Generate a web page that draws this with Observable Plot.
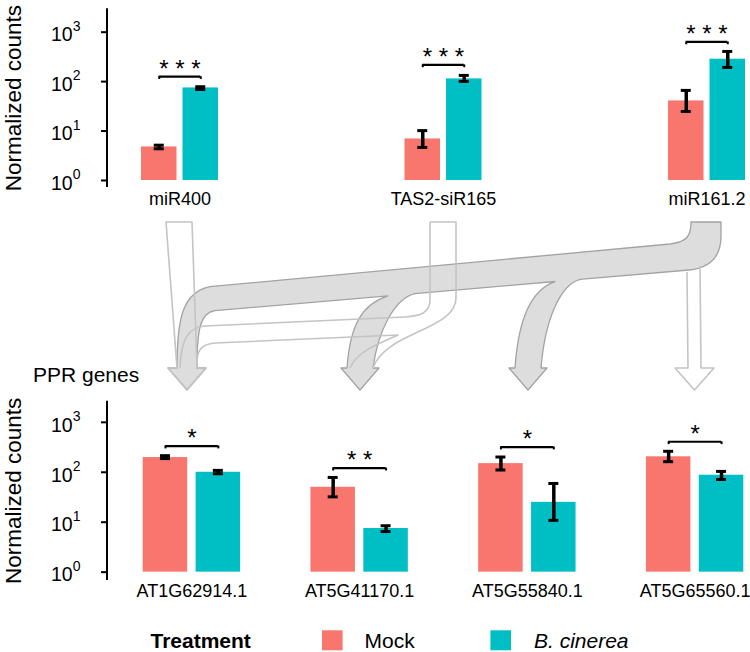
<!DOCTYPE html>
<html><head><meta charset="utf-8">
<script src="https://cdn.jsdelivr.net/npm/d3@7"></script>
<script src="https://cdn.jsdelivr.net/npm/@observablehq/plot@0.6"></script>
<style>
body{margin:0;background:#fff;font-family:"Liberation Sans",Arial,sans-serif;}
#wrap{position:relative;width:750px;height:652px;overflow:hidden;background:#fff}
#wrap > *{position:absolute;left:0}
</style></head><body><div id="wrap"></div>
<script>
// ---------- data ----------
const treatments = ["Mock", "B. cinerea"];
const colors = ["#F8766D", "#00BFC4"];
const yTicks = [1, 10, 100, 1000];

const topGroups = ["miR400", "TAS2-siR165", "miR161.2"];
const topMock   = [4.77, 6.92, 40.7];
const topMockLo = [4.38, 4.66, 24.9];
const topMockHi = [5.18, 10.2, 66.4];
const topBc     = [74.5, 113.5, 284];
const topBcLo   = [69.5, 101, 194];
const topBcHi   = [78.8, 133.5, 408];
const topSig    = ["* * *", "* * *", "* * *"];
const topSigY   = [126, 218, 635];

const botGroups = ["AT1G62914.1", "AT5G41170.1", "AT5G55840.1", "AT5G65560.1"];
const botMock   = [197, 50, 149, 204];
const botMockLo = [188, 32.2, 111, 163];
const botMockHi = [215, 78.8, 202, 263];
const botBc     = [100, 7.48, 25, 87.3];
const botBcLo   = [93.5, 6.5, 10.9, 71.8];
const botBcHi   = [109, 8.5, 59.7, 104];
const botSig    = ["*", "* *", "*", "*"];
const botSigY   = [335, 121, 320, 408];

const yTitle = "Normalized counts";
const bottomTitle = "PPR genes";
const legendTitle = "Treatment";

// ---------- panel builder ----------
function panel(cfg) {
  const rows = [];
  cfg.groups.forEach((g, i) => {
    rows.push({group: g, treatment: treatments[0], value: cfg.mock[i], lo: cfg.mockLo[i], hi: cfg.mockHi[i]});
    rows.push({group: g, treatment: treatments[1], value: cfg.bc[i], lo: cfg.bcLo[i], hi: cfg.bcHi[i]});
  });
  const mock = rows.filter(d => d.treatment === treatments[0]);
  const bc = rows.filter(d => d.treatment === treatments[1]);
  const sig = cfg.groups.map((g, i) => ({group: g, y: cfg.sigY[i], label: cfg.sig[i]}));
  const barW = cfg.barW, gap = cfg.gap, bw = 2 * barW + gap;
  const off = (barW + gap) / 2;
  const capW = 10;
  const capIn = bw / 2 - off - capW / 2;
  const capOut = bw / 2 + off - capW / 2;
  const extra = cfg.extra || [];
  const plot = Plot.plot({
    width: 750, height: cfg.height,
    marginLeft: 108, marginRight: 0, marginTop: cfg.marginTop, marginBottom: cfg.marginBottom,
    style: {fontFamily: "'Liberation Sans', Arial, sans-serif", background: "white", color: "black", overflow: "visible"},
    x: {domain: cfg.groups, range: cfg.xRange, paddingInner: cfg.pad, paddingOuter: 0, round: false},
    y: {type: "log", domain: cfg.yDomain},
    color: {domain: treatments, range: colors},
    marks: [
      Plot.barY(mock, {x: "group", y1: 1, y2: "value", fill: "treatment", insetRight: barW + gap}),
      Plot.barY(bc, {x: "group", y1: 1, y2: "value", fill: "treatment", insetLeft: barW + gap}),
      Plot.ruleX(mock, {x: "group", y1: "lo", y2: "hi", dx: -off, stroke: "black", strokeWidth: 3.5}),
      Plot.ruleX(bc, {x: "group", y1: "lo", y2: "hi", dx: off, stroke: "black", strokeWidth: 3.5}),
      Plot.tickY(mock, {x: "group", y: "lo", insetLeft: capIn, insetRight: capOut, stroke: "black", strokeWidth: 3}),
      Plot.tickY(mock, {x: "group", y: "hi", insetLeft: capIn, insetRight: capOut, stroke: "black", strokeWidth: 3}),
      Plot.tickY(bc, {x: "group", y: "lo", insetLeft: capOut, insetRight: capIn, stroke: "black", strokeWidth: 3}),
      Plot.tickY(bc, {x: "group", y: "hi", insetLeft: capOut, insetRight: capIn, stroke: "black", strokeWidth: 3}),
      Plot.tickY(sig, {x: "group", y: "y", insetLeft: bw / 2 - off, insetRight: bw / 2 - off, stroke: "black", strokeWidth: 2.2}),
      Plot.ruleX(sig, {x: "group", y1: "y", y2: d => d.y / 1.14, dx: -off, stroke: "black", strokeWidth: 2}),
      Plot.ruleX(sig, {x: "group", y1: "y", y2: d => d.y / 1.14, dx: off, stroke: "black", strokeWidth: 2}),
      Plot.text(sig, {x: "group", y: "y", text: "label", fontSize: 24, lineAnchor: "bottom", textAnchor: "middle", dy: 0, fill: "black"}),
      Plot.axisX({tickSize: 0, tickPadding: cfg.xPad, fontSize: 18, label: null}),
      Plot.axisY({ticks: yTicks, tickSize: 7, tickPadding: 21, strokeWidth: 2, fontSize: 19.5, label: null,
                  tickFormat: d => "10^" + Math.round(Math.log10(d))}),
      Plot.text([yTitle], {text: d => d, frameAnchor: "left", rotate: -90, dx: -88, fontSize: 22.5,
                           textAnchor: "middle", lineAnchor: "bottom", fill: "black"}),
      ...extra
    ]
  });
  // superscript exponents for tick labels
  d3.select(plot).selectAll('g[aria-label="y-axis tick label"]').each(function () {
    const g = d3.select(this);
    g.attr("transform", (g.attr("transform") || "") + " translate(0,3)");
    g.selectAll("text").each(function () {
      const s = this.textContent.split("^");
      const t = d3.select(this);
      t.text(null);
      t.append("tspan").text(s[0]);
      t.append("tspan").attr("dy", -10.5).attr("font-size", 14).text(s[1]);
    });
  });
  // y axis line
  const yr = plot.scale("y").range;
  d3.select(plot).append("line")
    .attr("x1", 107).attr("x2", 107).attr("y1", yr[0]).attr("y2", yr[1])
    .attr("stroke", "black").attr("stroke-width", 2);
  return plot;
}

const wrap = d3.select("#wrap");

const topPlot = panel({
  groups: topGroups, mock: topMock, mockLo: topMockLo, mockHi: topMockHi,
  bc: topBc, bcLo: topBcLo, bcHi: topBcHi, sig: topSig, sigY: topSigY,
  height: 212, marginTop: 8.3, marginBottom: 25,
  xRange: [141, 745], pad: 0.7078, barW: 35.5, gap: 6, xPad: 5,
  yDomain: [Math.pow(10, -0.142), Math.pow(10, 3.473)]
});
topPlot.style.top = "0px";
wrap.node().appendChild(topPlot);

const bottomPlot = panel({
  groups: botGroups, mock: botMock, mockLo: botMockLo, mockHi: botMockHi,
  bc: botBc, bcLo: botBcLo, bcHi: botBcHi, sig: botSig, sigY: botSigY,
  height: 246, marginTop: 45.7, marginBottom: 21,
  xRange: [142.7, 743.3], pad: 0.4193, barW: 44.5, gap: 8.4, xPad: 3.5,
  yDomain: [Math.pow(10, -0.167), Math.pow(10, 3.423)],
  extra: [Plot.text([bottomTitle], {text: d => d, frameAnchor: "top-left", textAnchor: "start", lineAnchor: "bottom",
                                    dx: -75.5, dy: -19.7, fontSize: 21, fill: "black"})]
});
bottomPlot.style.top = "355px";
wrap.node().appendChild(bottomPlot);

// ---------- decorative flow arrows ----------
const yL = x => 270 + (689 - x) * 0.0859;
const yU = x => 243 + (681 - x) * 0.0926;
const bandPath = `M691,222 L721,222 L721,236 C721,258 709,268 689,270
L580,${yL(580)} C560,285 545,320 541,368 L547,368 L528,390 L509,368 L515,368 C518,322 530,290 555,${yL(555)}
L415,${yL(415)} C395,298 378,330 373,368 L379,368 L360,390 L341,368 L347,368 C350,325 362,304 388,${yL(388)}
L215,${yL(215)} C200,313 197,330 197,368 L206,368 L187,390 L168,368 L177,368 C177,320 182,292 210,${yU(210)}
L670,${yU(670)} C687,242 691,236 691,222 Z`;
const lightPaths = [
  "M166,222 L192,222 L197,368 L206,368 L187,390 L168,368 L177,368 Z",
  "M430,222 L456,222 L456,298 C456,330 385,332 373,368",
  "M430,222 L430,300 C430,313 420,316 405,317 L205,326 C188,327 181,340 180,368",
  "M197,368 C196,352 200,344 215,343 L398,335 C375,345 357,352 350,368",
  "M687,272 L688,368 L675,368 L694.5,390 L714,368 L701,368 L700,266"
];
const arrows = wrap.append("svg").attr("width", 750).attr("height", 652)
  .style("top", "0px").style("pointer-events", "none");
arrows.append("path").attr("d", bandPath).attr("fill", "#d9d9d9").attr("fill-opacity", 0.9)
  .attr("stroke", "#a3a3a3").attr("stroke-width", 1.3).attr("stroke-linejoin", "round");
arrows.selectAll("path.light").data(lightPaths).join("path").attr("class", "light")
  .attr("d", d => d).attr("fill", "none").attr("stroke", "#c4c4c4").attr("stroke-width", 1.6)
  .attr("stroke-linejoin", "round");

// ---------- legend ----------
const leg = wrap.append("svg").attr("width", 750).attr("height", 40).style("top", "612px")
  .style("font-family", "'Liberation Sans', Arial, sans-serif");
leg.append("text").attr("x", 150.5).attr("y", 36).attr("font-size", 21).attr("font-weight", "bold").text(legendTitle);
const swX = [322, 490.4], labX = [364.5, 534];
treatments.forEach((t, i) => {
  leg.append("rect").attr("x", swX[i]).attr("y", 18.3).attr("width", 20.6).attr("height", 20).attr("fill", colors[i]);
  leg.append("text").attr("x", labX[i]).attr("y", 36).attr("font-size", 21)
    .attr("font-style", i === 1 ? "italic" : "normal").text(t);
});
</script></body></html>
